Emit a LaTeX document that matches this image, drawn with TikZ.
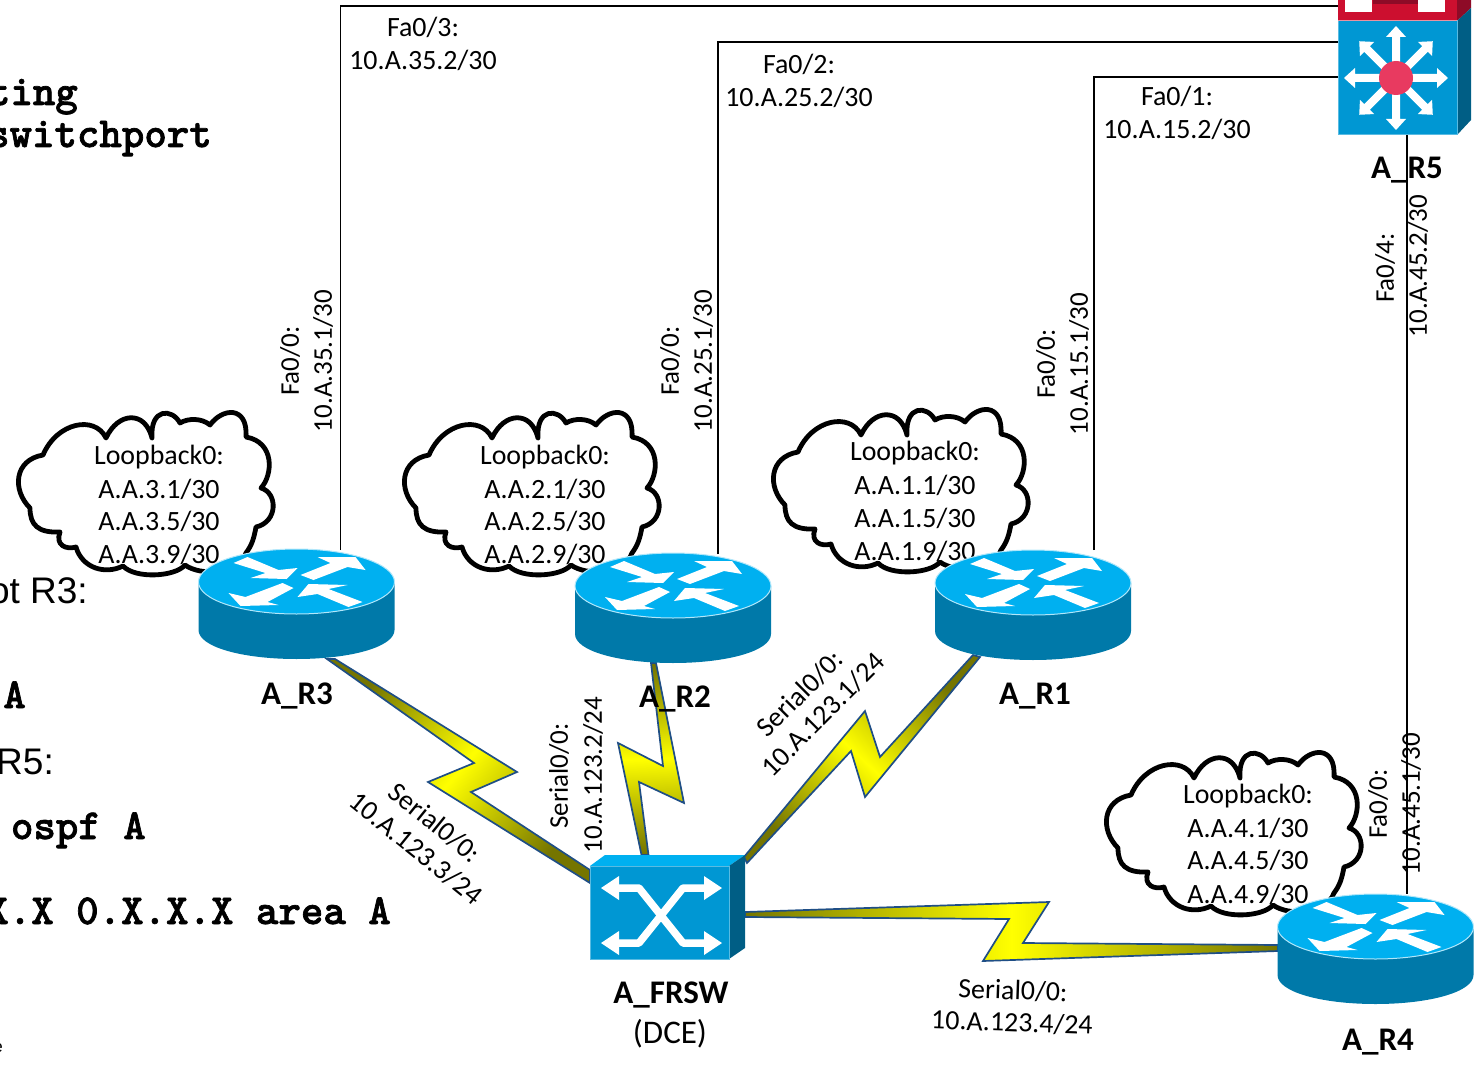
\documentclass[tikz,border=0pt]{standalone}
\usepackage{fontspec}
\setmainfont{Carlito}
\newfontfamily\arialfam{Liberation Sans}
\newfontfamily\cmdfam{lmmonolt10-bold.otf}[FakeBold=1.6]
\usetikzlibrary{calc}
\definecolor{topblue}{HTML}{00B0F0}
\definecolor{sideblue}{HTML}{0079A9}
\definecolor{faceblue}{HTML}{0097D3}
\definecolor{darkside}{HTML}{005E85}
\definecolor{boltedge}{HTML}{1F4E85}
\definecolor{boltend}{HTML}{757500}
\definecolor{swred}{HTML}{CC0F2F}
\definecolor{swdark}{HTML}{8E0B27}
\definecolor{hubred}{HTML}{E83A60}
\tikzset{
  anchorbox/.style={inner sep=0pt,outer sep=0pt,minimum width=#1},
  lab/.style={inner sep=0pt,yshift=-1.5pt,font=\fontsize{27.9}{30}\selectfont},
  vlab/.style={inner sep=0pt,rotate=90,font=\fontsize{27}{30}\selectfont},
  devlab/.style={inner sep=0pt,yshift=-2pt,font=\fontsize{33}{35}\selectfont\bfseries},
  cmd/.style={inner sep=0pt,anchor=base east,font=\fontsize{42.8}{44}\selectfont\cmdfam},
  plain/.style={inner sep=0pt,anchor=base east,font=\fontsize{37}{40}\selectfont\arialfam},
  eth/.style={draw=black,line width=1.7pt},
  cloudline/.style={draw=black,fill=white,line width=4.8pt,line join=round},
  bolt/.style={draw=boltedge,line width=1.7pt,line join=miter,shading=axis,top color=boltend,bottom color=boltend,middle color=yellow,shading angle=#1},
  whitearrow/.style={fill=white,draw=none}
}
\newcommand{\cloudshape}[2]{%
  \begin{scope}[shift={(#1,#2)}]
  \path[cloudline] (43,55) .. controls (57,22) and (95,15) .. (106,38)
    .. controls (118,12) and (145,10) .. (152,38)
    .. controls (150,8) and (172,8) .. (180,23)
    .. controls (188,18) and (202,18) .. (210,25)
    .. controls (222,8) and (248,5) .. (246,37)
    .. controls (275,42) and (273,75) .. (261,88)
    .. controls (278,93) and (278,122) .. (256,127)
    .. controls (254,138) and (252,145) .. (246,153)
    .. controls (238,175) and (200,176) .. (185,165)
    .. controls (175,177) and (135,179) .. (123,166)
    .. controls (105,175) and (82,168) .. (76,147)
    .. controls (66,150) and (55,145) .. (60,132)
    .. controls (38,133) and (30,125) .. (30,108)
    .. controls (12,90) and (14,60) .. (43,55) -- cycle;
  \end{scope}}
\newcommand{\routericon}[2]{%
  \begin{scope}[shift={(#1,#2)}]
  \fill[sideblue] (-98,0) -- (-98,48) .. controls (-98,65) and (-54,77) .. (0,77)
     .. controls (54,77) and (98,65) .. (98,48) -- (98,0) -- cycle;
  \path[fill=topblue,draw=white!70!topblue,line width=1pt] (-98,0) .. controls (-98,-18) and (-54,-33) .. (0,-33)
     .. controls (54,-33) and (98,-18) .. (98,0) .. controls (98,18) and (54,32) .. (0,32)
     .. controls (-54,32) and (-98,18) .. (-98,0) -- cycle;
  \fill[whitearrow] (-63,-19) -- (-49,-25) -- (-18,-12) -- (1,-14) -- (-10,-3) -- (-46,-4) -- (-31,-9) -- cycle;
  \fill[whitearrow] (4,-7) -- (34,-19) -- (21,-25) -- (59,-25) -- (69,-12) -- (51,-15) -- (17,-2) -- cycle;
  \fill[whitearrow] (-3,6) -- (-29,20) -- (-18,23) -- (-56,24) -- (-68,11) -- (-51,15) -- (-14,1) -- cycle;
  \fill[whitearrow] (1,15) -- (12,2) -- (51,3) -- (32,7) -- (66,20) -- (52,25) -- (21,12) -- cycle;
  \end{scope}}
\begin{document}
\begin{tikzpicture}[x=1pt,y=-1pt]
\useasboundingbox (0,0) rectangle (1480,1067);
\clip (0,0) rectangle (1480,1067);

% invisible device anchors
\node[anchorbox=197pt,minimum height=109pt] (r3) at (296.5,604.5) {};
\node[anchorbox=196pt,minimum height=109pt] (r2) at (673,608.5) {};
\node[anchorbox=196pt,minimum height=110pt] (r1) at (1033,605) {};
\node[anchorbox=195pt,minimum height=111pt] (r4) at (1375.5,949.5) {};
\node[anchorbox=155pt,minimum height=104pt] (frsw) at (667.5,907) {};
\node[anchorbox=133pt,minimum height=135pt] (r5) at (1404.5,67.5) {};

% left-hand text cut by the page edge
\node[cmd] (t1) at (78,105) {ting};
\node[cmd] (t2) at (212,147) {switchport};
\node[plain] (t3) at (88,603) {ot R3:};
\node[cmd] (t4) at (26,708) {A};
\node[plain] (t5) at (54,774) {R5:};
\node[cmd] (t6) at (146,839) {ospf A};
\node[cmd] (t7) at (391,924) {X.X 0.X.X.X area A};
\node[inner sep=0pt,anchor=base east,font=\fontsize{17}{18}\selectfont\arialfam] (t8) at (3,1052) {e};

% Ethernet links
\draw[eth] ([xshift=44pt]r3.north) |- ([yshift=61.5pt]r5.west);
\draw[eth] ([xshift=45pt]r2.north) |- ([yshift=25.5pt]r5.west);
\draw[eth] ([xshift=61pt]r1.north) |- ([yshift=-9.5pt]r5.west);
\draw[eth] ([xshift=2.5pt]r5.south) -- ([xshift=31.5pt]r4.north);

% serial links
\path[bolt=50] ([xshift=38.5pt]r3.south) -- (517,772) -- (471,792) -- ([yshift=37pt]frsw.west) -- ([yshift=24pt]frsw.west) -- (428,782) -- (474,763) -- ([xshift=30.5pt]r3.south) -- cycle;
\path[bolt=2] ([xshift=-17pt]r2.south) -- (684,803) -- (639,782) -- ([xshift=-19pt]frsw.north) -- ([xshift=-26pt]frsw.north) -- (618,743) -- (663,766) -- ([xshift=-22pt]r2.south) -- cycle;
\path[bolt=-43] ([xshift=-60pt,yshift=5pt]r1.south) -- (880,757) -- (865,711) -- ([xshift=-1pt,yshift=-2pt]frsw.north east) -- ([xshift=2pt,yshift=-8pt]frsw.north east) -- (851,751) -- (865,797) -- ([xshift=-53pt,yshift=3pt]r1.south) -- cycle;
\path[bolt=90] ([yshift=-5pt]frsw.east) -- (1049,902) -- (1023,943) -- ([yshift=4.5pt]r4.west) -- ([yshift=-1.5pt]r4.west) -- (983,961) -- (1009,919) -- ([yshift=-10pt]frsw.east) -- cycle;

% clouds
\cloudshape{0}{400}
\cloudshape{386}{400}
\cloudshape{755}{397}
\cloudshape{1088}{740}

\foreach \n/\cx/\a/\b/\c/\d/\mid in {c3/159/456/488/520/553/3,c2/545/456/488/520/553/2,c1/915/452/484/517/550/1,c4/1248/795/827/859/893/4}{
  \node[lab] (\n a) at (\cx,\a) {Loopback0:};
  \node[lab] (\n b) at (\cx,\b) {A.A.\mid.1/30};
  \node[lab] (\n c) at (\cx,\c) {A.A.\mid.5/30};
  \node[lab] (\n d) at (\cx,\d) {A.A.\mid.9/30};
}

% routers
\routericon{296.5}{582}
\routericon{673}{586}
\routericon{1033}{583}
\routericon{1375.5}{927}

% frame relay switch
\fill[topblue] (590,866) -- (605,855) -- (745,855) -- (729,866) -- cycle;
\fill[darkside] (729,866) -- (745,855) -- (745,948) -- (729,959) -- cycle;
\path[fill=faceblue,draw=white!35!faceblue,line width=1pt] (590,866) rectangle (729,959);
\draw[white,line width=7.5pt,line join=round] (612,888) -- (639,888) -- (683,943) -- (710,943);
\draw[white,line width=7.5pt,line join=round] (612,943) -- (639,943) -- (683,888) -- (710,888);
\foreach \yy in {888,943}{
  \fill[white] (601,\yy) -- (619,\yy-12) -- (619,\yy+12) -- cycle;
  \fill[white] (722,\yy) -- (704,\yy-12) -- (704,\yy+12) -- cycle;
}

% multilayer switch
\fill[swred] (1338,0) rectangle (1457,21);
\fill[swdark] (1457,0) -- (1471,0) -- (1471,8) -- (1457,21) -- cycle;
\fill[white] (1345,0) rectangle (1372,12);
\fill[white] (1418,0) rectangle (1445,12);
\fill[swdark] (1373,0) rectangle (1418,4);
\fill[darkside] (1457,21) -- (1471,8) -- (1471,120) -- (1457,135) -- cycle;
\path[fill=faceblue,draw=white!35!faceblue,line width=1pt] (1338,21) rectangle (1457,135);
\draw[white!55!swred,line width=1pt] (1338,20.5) -- (1457,20.5);
\foreach \ang in {0,45,...,315}{
  \begin{scope}[shift={(1396,78)},rotate=\ang]
  \fill[white] (15,-4) -- (41,-4) -- (41,-10) -- (52,0) -- (41,10) -- (41,4) -- (15,4) -- cycle;
  \end{scope}
}
\fill[hubred] (1396,78) circle (17pt);

% device labels
\node[devlab] (lr3) at (297,694) {A\_R3};
\node[devlab] (lr2) at (675,697) {A\_R2};
\node[devlab] (lr1) at (1035,694) {A\_R1};
\node[devlab] (lr4) at (1378,1040) {A\_R4};
\node[devlab] (lr5) at (1407,168) {A\_R5};
\node[devlab] (lfr) at (671,993) {A\_FRSW};
\node[lab,font=\fontsize{33}{35}\selectfont] (ldce) at (670,1032) {(DCE)};

% Ethernet port labels
\node[lab] (p1) at (423,26) {Fa0/3:};
\node[lab] (p2) at (423,59) {10.A.35.2/30};
\node[lab] (p3) at (799,63) {Fa0/2:};
\node[lab] (p4) at (799,96) {10.A.25.2/30};
\node[lab] (p5) at (1177,95) {Fa0/1:};
\node[lab] (p6) at (1177,128) {10.A.15.2/30};
\node[vlab] (p7) at (290,361) {Fa0/0:};
\node[vlab] (p8) at (323,361) {10.A.35.1/30};
\node[vlab] (p9) at (670,361) {Fa0/0:};
\node[vlab] (p10) at (703,361) {10.A.25.1/30};
\node[vlab] (p11) at (1046,364) {Fa0/0:};
\node[vlab] (p12) at (1079,364) {10.A.15.1/30};
\node[vlab] (p13) at (1385,268) {Fa0/4:};
\node[vlab] (p14) at (1418,266) {10.A.45.2/30};
\node[vlab] (p15) at (1378,804) {Fa0/0:};
\node[vlab] (p16) at (1411,804) {10.A.45.1/30};

% serial port labels
\node[lab,rotate=-39] (s1) at (435,821) {Serial0/0:};
\node[lab,rotate=-39] (s2) at (416,847) {10.A.123.3/24};
\node[vlab] (s3) at (559,776) {Serial0/0:};
\node[vlab] (s4) at (593,775) {10.A.123.2/24};
\node[lab,rotate=45] (s5) at (800,692) {Serial0/0:};
\node[lab,rotate=45] (s6) at (823,713) {10.A.123.1/24};
\node[lab,rotate=-2] (s7) at (1013,989) {Serial0/0:};
\node[lab,rotate=-2] (s8) at (1012,1021) {10.A.123.4/24};
\end{tikzpicture}
\end{document}
